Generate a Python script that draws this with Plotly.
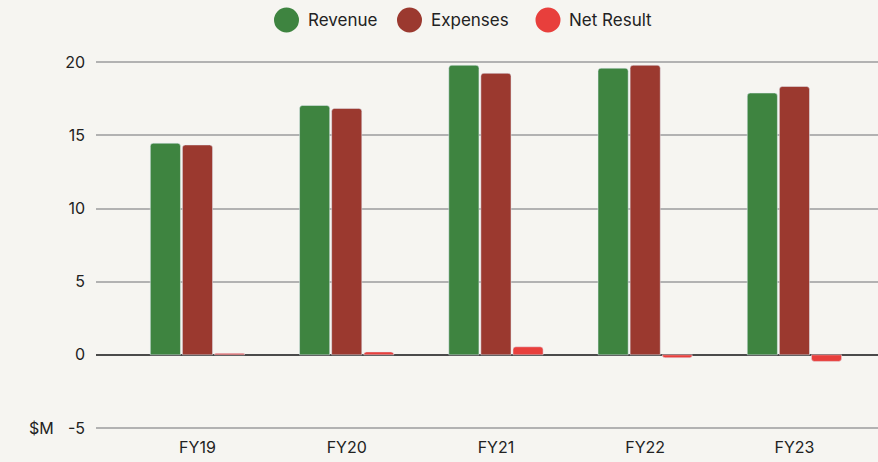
import plotly.graph_objects as go

categories = ["FY19", "FY20", "FY21", "FY22", "FY23"]
revenue = [14.47, 17.05, 19.8, 19.6, 17.9]
expenses = [14.35, 16.85, 19.25, 19.8, 18.35]
net_result = [0.1, 0.2, 0.55, -0.2, -0.45]
y_ticks = [-5, 0, 5, 10, 15, 20]
y_tick_labels = ["-5", "0", "5", "10", "15", "20"]

series_names = ["Revenue", "Expenses", "Net Result"]
series_values = [revenue, expenses, net_result]
series_colors = ["#3e8440", "#9b392f", "#e83f3c"]

FONT = "Inter, Roboto, sans-serif"
TEXT = "#222222"
BG = "#f6f5f1"

W, H = 878, 462
ML, MR, MT, MB = 96, 0, 55, 32
PW, PH = W - ML - MR, H - MT - MB


def px_x(x):
    return (x - ML) / PW


def px_y(y):
    return (H - MB - y) / PH


fig = go.Figure()
for name, vals, col in zip(series_names, series_values, series_colors):
    fig.add_trace(go.Bar(
        x=categories, y=vals, name=name, marker=dict(color=col, cornerradius=3),
        showlegend=False,
    ))

# manual legend (large circles)
legend_circle_x = [286.5, 409.5, 548]
legend_text_x = [306, 429, 567]
legend_y = 20
shapes = []
annotations = []
for name, col, cx, tx in zip(series_names, series_colors, legend_circle_x, legend_text_x):
    shapes.append(dict(type="circle", xref="paper", yref="paper",
                       xsizemode="pixel", ysizemode="pixel",
                       xanchor=px_x(cx), yanchor=px_y(legend_y),
                       x0=-12.5, x1=12.5, y0=-12.5, y1=12.5,
                       fillcolor=col, line=dict(width=0)))
    annotations.append(dict(text=name, xref="paper", yref="paper", x=px_x(tx), y=px_y(legend_y),
                            xanchor="left", yanchor="middle", showarrow=False,
                            font=dict(size=17, color=TEXT)))

annotations.append(dict(text="$M", xref="paper", yref="y", x=px_x(56), y=-5, xanchor="right",
                        yanchor="middle", showarrow=False, font=dict(size=16, color=TEXT)))

fig.update_layout(
    width=W, height=H,
    margin=dict(l=ML, r=MR, t=MT, b=MB),
    paper_bgcolor=BG, plot_bgcolor=BG,
    font=dict(family=FONT, size=16, color=TEXT),
    barmode="group", bargap=0.355, bargroupgap=0.06,
    showlegend=False,
    xaxis=dict(range=[-0.68, 4.56], showgrid=False, showline=False, zeroline=False,
               ticks="", ticklabelstandoff=6, tickfont=dict(size=16, color=TEXT), fixedrange=True),
    yaxis=dict(range=[-5.14, 20.5], tickvals=y_ticks, ticktext=y_tick_labels, showgrid=True,
               gridcolor="#b2b2b2", gridwidth=2, zeroline=True, zerolinecolor="#4a4a4a",
               zerolinewidth=1.5, showline=False, ticks="", ticklabelstandoff=10,
               tickfont=dict(size=16, color=TEXT), fixedrange=True),
    shapes=shapes,
    annotations=annotations,
)

fig.write_html("out.html", config={"displayModeBar": False},
               post_script="document.body.style.margin='0';")
